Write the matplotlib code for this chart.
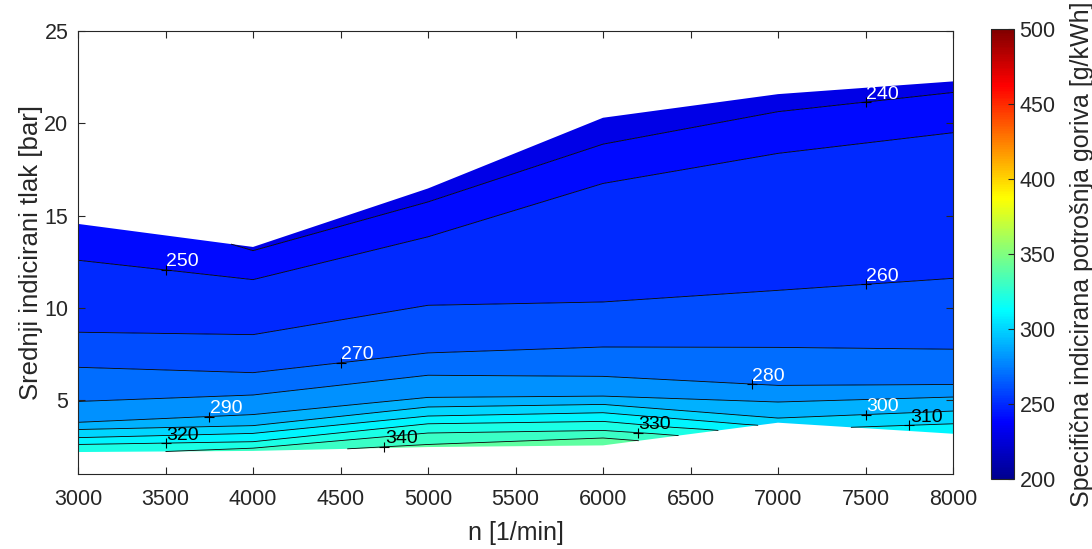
import numpy as np
import matplotlib
matplotlib.use("Agg")
import matplotlib.pyplot as plt
from matplotlib.colors import LinearSegmentedColormap, Normalize
from matplotlib.cm import ScalarMappable

plt.rcParams['font.family'] = ['Liberation Sans', 'DejaVu Sans']

# ---- data: engine speed columns, mean indicated pressure [bar] and ISFC [g/kWh]
speeds = [3000, 4000, 5000, 6000, 7000, 8000]

p_3000 = [2.19, 2.19, 2.19, 2.60, 2.97, 3.41, 3.80, 4.93, 6.78, 8.68, 12.58, 14.55, 14.55]
z_3000 = [327, 327, 327, 320, 310, 300, 290, 280, 270, 260, 250, 249, 249]
p_4000 = [2.25, 2.25, 2.40, 2.75, 3.20, 3.62, 4.22, 5.28, 6.49, 8.55, 11.53, 13.10, 13.30]
z_4000 = [333, 333, 330, 320, 310, 300, 290, 280, 270, 260, 250, 240, 238.7]
p_5000 = [2.46, 2.60, 3.22, 3.72, 4.14, 4.63, 5.15, 6.35, 7.56, 10.14, 13.85, 15.74, 16.47]
z_5000 = [346, 340, 330, 320, 310, 300, 290, 280, 270, 260, 250, 240, 236]
p_6000 = [2.55, 2.95, 3.36, 3.85, 4.32, 4.77, 5.22, 6.29, 7.88, 10.32, 16.74, 18.87, 20.30]
z_6000 = [349, 340, 330, 320, 310, 300, 290, 280, 270, 260, 250, 240, 233.3]
p_7000 = [3.78, 3.78, 3.78, 3.78, 3.78, 4.03, 4.90, 5.80, 7.86, 10.95, 18.37, 20.63, 21.58]
z_7000 = [305, 305, 305, 305, 305, 300, 290, 280, 270, 260, 250, 240, 235.8]
p_8000 = [3.18, 3.18, 3.18, 3.18, 3.72, 4.41, 5.17, 5.85, 7.76, 11.60, 19.49, 21.67, 22.27]
z_8000 = [317, 317, 317, 317, 310, 300, 290, 280, 270, 260, 250, 240, 237.2]

levels = [230, 240, 250, 260, 270, 280, 290, 300, 310, 320, 330, 340, 350]

# contour labels: speed position and level
label_n = [7500, 3500, 7500, 4500, 6850, 3750, 7500, 7750, 3500, 6200, 4750]
label_lvl = [240, 250, 260, 270, 280, 290, 300, 310, 320, 330, 340]
label_white = [True, True, True, True, True, True, True, False, False, False, False]

cbar_ticks = [200, 250, 300, 350, 400, 450, 500]
xticks = [3000, 3500, 4000, 4500, 5000, 5500, 6000, 6500, 7000, 7500, 8000]
yticks = [5, 10, 15, 20, 25]

# ---- build grid
P = np.column_stack([p_3000, p_4000, p_5000, p_6000, p_7000, p_8000])
Z = np.column_stack([z_3000, z_4000, z_5000, z_6000, z_7000, z_8000])
N = np.tile(np.array(speeds, dtype=float), (P.shape[0], 1))

# MATLAB-like jet
cdict = {
    'red':   [(0, 0, 0), (0.375, 0, 0), (0.625, 1, 1), (0.875, 1, 1), (1, 0.5, 0.5)],
    'green': [(0, 0, 0), (0.125, 0, 0), (0.375, 1, 1), (0.625, 1, 1), (0.875, 0, 0), (1, 0, 0)],
    'blue':  [(0, 0.5625, 0.5625), (0.125, 1, 1), (0.375, 1, 1), (0.625, 0, 0), (1, 0, 0)],
}
jet = LinearSegmentedColormap('mjet', cdict, N=256)
norm = Normalize(vmin=200, vmax=500)

fig = plt.figure(figsize=(10.92, 5.49), dpi=100)
ax = fig.add_axes([78/1092, 1-474/549, (953-78)/1092, (474-31)/549])

fill_colors = [jet(norm(l)) for l in levels[:-1]]
ax.contourf(N, P, Z, levels=levels, colors=fill_colors, antialiased=True)
cs = ax.contour(N, P, Z, levels=levels, colors='k', linewidths=0.6)

# labels
for n_pos, lvl, white in zip(label_n, label_lvl, label_white):
    idx = levels.index(lvl)
    best = None
    for seg in cs.allsegs[idx]:
        if len(seg) < 2:
            continue
        xs, ys = seg[:, 0], seg[:, 1]
        if xs.min() <= n_pos <= xs.max():
            order = np.argsort(xs)
            best = np.interp(n_pos, xs[order], ys[order])
            break
    if best is None:
        continue
    ax.plot([n_pos], [best], marker='+', color='k', markersize=7, markeredgewidth=0.8)
    ax.annotate(str(lvl), (n_pos, best), xytext=(0.5, 2.5), textcoords='offset points',
                ha='left', va='baseline', fontsize=14,
                color='white' if white else 'black')

ax.set_xlim(3000, 8000)
ax.set_ylim(1, 25)
ax.set_xticks(xticks)
ax.set_yticks(yticks)
ax.tick_params(direction='in', top=True, right=True, length=5, width=0.8,
               labelsize=15.5, colors='#262626')
ax.tick_params(axis='x', pad=11)
ax.tick_params(axis='y', pad=7)
for s in ax.spines.values():
    s.set_color('#262626')
    s.set_linewidth(0.8)
ax.set_xlabel('n [1/min]', fontsize=18, color='#262626', labelpad=8)
ax.set_ylabel('Srednji indicirani tlak [bar]', fontsize=18.5, color='#262626', labelpad=1)

# colorbar
cax = fig.add_axes([991/1092, 1-479/549, 23/1092, 450/549])
cb = fig.colorbar(ScalarMappable(norm=norm, cmap=jet), cax=cax)
cb.set_ticks(cbar_ticks)
cb.outline.set_edgecolor('#262626')
cb.outline.set_linewidth(0.8)
cax.tick_params(direction='in', length=4, width=0.8, labelsize=15.5, colors='#262626', pad=4)
cb.set_label('Specifična indicirana potrošnja goriva [g/kWh]', fontsize=18, color='#262626', labelpad=10)

fig.savefig('out.png', dpi=100)
